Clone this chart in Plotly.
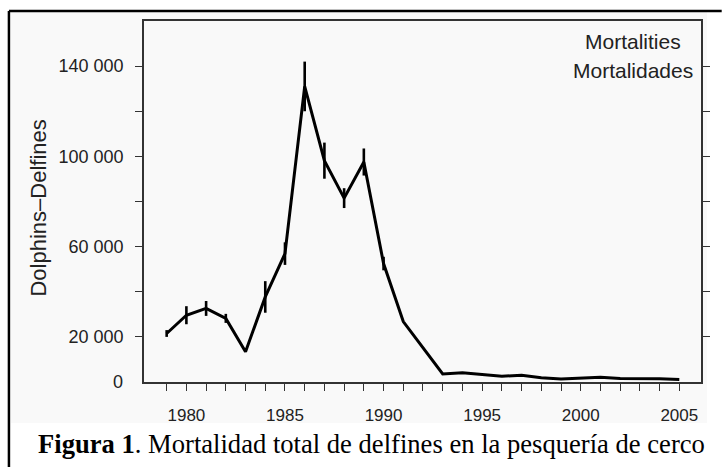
import plotly.graph_objects as go

years = list(range(1979, 2006))
mortality = [21500, 29600, 32600, 28200, 13400, 37700, 56900, 131000, 98100, 81500,
             97500, 52500, 26800, 15300, 3600, 4100, 3300, 2550, 3000, 1880,
             1350, 1640, 2130, 1500, 1500, 1470, 1150]
err = [1500, 4000, 3300, 2000, 0, 7000, 5000, 11000, 8000, 4400,
       6000, 3000, 0, 0, 0, 0, 0, 0, 0, 0,
       0, 0, 0, 0, 0, 0, 0]
x_ticks = list(range(1979, 2006))
x_labels = [str(y) if y % 5 == 0 else "" for y in x_ticks]
y_ticks = [20000, 40000, 60000, 80000, 100000, 120000, 140000]
y_labels = ["20 000", "", "60 000", "", "100 000", "", "140 000"]

W, H = 722, 467
L, R, T, B = 144, 13, 21, 85
pw, ph = W - L - R, H - T - B


def px(x):
    return (x - L) / pw


def py(y):
    return (H - B - y) / ph


fig = go.Figure()
fig.add_trace(go.Scatter(
    x=years, y=mortality, mode="lines",
    line=dict(color="black", width=3),
    error_y=dict(type="data", array=err, visible=True, color="black",
                 thickness=2.6, width=0),
    showlegend=False,
))

font = "Liberation Sans, Arial, sans-serif"
fig.update_layout(
    width=W, height=H,
    margin=dict(l=L, r=R, t=T, b=B),
    paper_bgcolor="white", plot_bgcolor="white",
    font=dict(family=font, color="#222", size=17),
    xaxis=dict(range=[1977.85, 2006.1], tickvals=x_ticks, ticktext=x_labels,
               ticks="outside", ticklen=7, tickwidth=1.3, tickcolor="#333",
               showline=True, linecolor="#333", linewidth=1.5, mirror=True,
               showgrid=False, zeroline=False, ticklabelstandoff=10,
               tickfont=dict(size=17)),
    yaxis=dict(range=[0, 160000], tickvals=y_ticks, ticktext=y_labels,
               ticks="outside", ticklen=7, tickwidth=1.3, tickcolor="#333",
               showline=True, linecolor="#333", linewidth=1.5, mirror="ticks",
               showgrid=False, zeroline=False, ticklabelstandoff=8,
               tickfont=dict(size=18)),
)

fig.add_annotation(x=px(37), y=py(208), xref="paper", yref="paper",
                   text="Dolphins\u2013Delfines", textangle=-90, showarrow=False,
                   xanchor="center", yanchor="middle",
                   font=dict(size=22, family=font, color="#222"))
fig.add_annotation(x=0, y=0, xref="paper", yref="y", text="0", showarrow=False,
                   xanchor="right", yanchor="middle", xshift=-19,
                   font=dict(size=18, family=font, color="#222"))
fig.add_annotation(x=px(640), y=py(41), xref="paper", yref="paper",
                   text="Mortalities", showarrow=False,
                   xanchor="center", yanchor="middle",
                   font=dict(size=21, family=font, color="#222"))
fig.add_annotation(x=px(640), y=py(70), xref="paper", yref="paper",
                   text="Mortalidades", showarrow=False,
                   xanchor="center", yanchor="middle",
                   font=dict(size=21, family=font, color="#222"))
fig.add_annotation(x=px(34), y=py(444), xref="paper", yref="paper",
                   text="<b>Figura 1</b>. Mortalidad total de delfines en la pesquería de cerco",
                   showarrow=False, xanchor="left", yanchor="middle",
                   font=dict(size=26.6, family="Liberation Serif, Times New Roman, serif",
                             color="black"))

# light grey chart panel behind the plot (above the caption)
fig.add_shape(type="rect", xref="paper", yref="paper", layer="below",
              x0=px(9), x1=px(715), y0=py(423), y1=py(12),
              line=dict(width=0), fillcolor="#f9f9f9")
# outer figure frame (left and top edges visible in the crop)
fig.add_shape(type="line", xref="paper", yref="paper",
              x0=px(7), x1=px(7), y0=py(470), y1=py(11),
              line=dict(color="black", width=2.5))
fig.add_shape(type="line", xref="paper", yref="paper",
              x0=px(7), x1=px(730), y0=py(11), y1=py(11),
              line=dict(color="black", width=2.5))

fig.write_html("out.html", config={"displayModeBar": False},
               post_script="document.body.style.margin='0';")
